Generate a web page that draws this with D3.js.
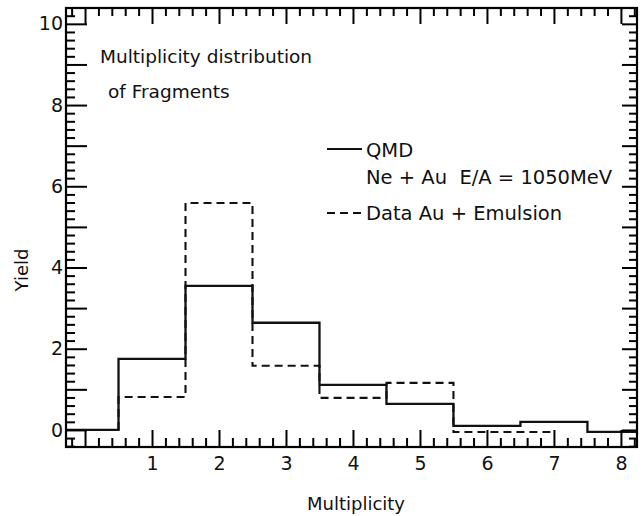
<!DOCTYPE html>
<html><head><meta charset="utf-8">
<script src="https://cdn.jsdelivr.net/npm/d3@7"></script>
<style>
body{margin:0;background:#fff}
svg{display:block}
text{font-family:"DejaVu Sans",sans-serif;fill:#111}
</style>
</head><body><svg id="c" width="642" height="516"></svg>
<script>
// ---- data ----
const multiplicity = [0, 1, 2, 3, 4, 5, 6, 7, 8];
const qmdEdges  = [-0.284, 0.5, 1.5, 2.5, 3.5, 4.5, 5.5, 6.5, 7.5, 8.24];
const qmdYield  = [0.0, 1.75, 3.55, 2.64, 1.11, 0.64, 0.10, 0.20, -0.05];
const dataEdges = [0.5, 1.5, 2.5, 3.5, 4.5, 5.5, 6.5, 7.0];
const dataYield = [0.81, 5.59, 1.58, 0.79, 1.16, -0.05, -0.05];
const xTickLabels = ["", "1", "2", "3", "4", "5", "6", "7", "8"];
const yMajorTicks = [0, 1, 2, 3, 4, 5, 6, 7, 8, 9, 10];
const yTickLabels = {0: "0", 2: "2", 4: "4", 6: "6", 8: "8", 10: "10"};
const titleLines = ["Multiplicity distribution", "of Fragments"];
const legendQMD = ["QMD", "Ne + Au  E/A = 1050MeV"];
const legendData = ["Data Au + Emulsion"];

const svg = d3.select("#c");
const L = 66, R = 637, T = 8, B = 447;
const x = d3.scaleLinear().domain([-0.284, 8.24]).range([L, R]);
const y = d3.scaleLinear().domain([-0.42, 10.39]).range([B, T]);

const xMinor = d3.range(-1, 42).map(i => i * 0.2)
  .filter(v => Math.abs(v - Math.round(v)) > 1e-6 && v > -0.284 && v < 8.24);
const yMinor = d3.range(-2, 52).map(i => i * 0.2)
  .filter(v => Math.abs(v - Math.round(v)) > 1e-6 && v > -0.42 && v < 10.39);

// histograms
function stepPath(edges, vals, startAtZero) {
  let p = startAtZero ? `M${x(edges[0])},${y(0)}V${y(vals[0])}` : `M${x(edges[0])},${y(vals[0])}`;
  for (let i = 0; i < vals.length; i++) {
    if (i > 0) p += `V${y(vals[i])}`;
    p += `H${x(edges[i + 1])}`;
  }
  return p;
}
svg.append("path").attr("d", stepPath(qmdEdges, qmdYield, false))
  .attr("fill", "none").attr("stroke", "#111").attr("stroke-width", 2.3);
svg.append("path").attr("d", stepPath(dataEdges, dataYield, true))
  .attr("fill", "none").attr("stroke", "#111").attr("stroke-width", 2.1)
  .attr("stroke-dasharray", "8,5");

// title
svg.append("text").attr("x", 100).attr("y", 63).attr("font-size", 18.5).text(titleLines[0]);
svg.append("text").attr("x", 108).attr("y", 98).attr("font-size", 18.5).text(titleLines[1]);

// legend
svg.append("line").attr("x1", 327).attr("x2", 362).attr("y1", 149).attr("y2", 149)
  .attr("stroke", "#111").attr("stroke-width", 2);
svg.append("text").attr("x", 366).attr("y", 157).attr("font-size", 19.5).text(legendQMD[0]);
svg.append("text").attr("x", 366).attr("y", 184).attr("font-size", 19.5)
  .style("white-space", "pre").text(legendQMD[1]);
svg.append("line").attr("x1", 327).attr("x2", 362).attr("y1", 213).attr("y2", 213)
  .attr("stroke", "#111").attr("stroke-width", 2).attr("stroke-dasharray", "8,5");
svg.append("text").attr("x", 366).attr("y", 220).attr("font-size", 19.5)
  .style("white-space", "pre").text(legendData[0]);

// axis titles
svg.append("text").attr("transform", "translate(28,270) rotate(-90)").attr("text-anchor", "middle")
  .attr("font-size", 18).text("Yield");
svg.append("text").attr("x", 356).attr("y", 510).attr("text-anchor", "middle")
  .attr("font-size", 18).text("Multiplicity");

// frame
svg.append("rect").attr("x", L).attr("y", T).attr("width", R - L).attr("height", B - T)
  .attr("fill", "none").attr("stroke", "#000").attr("stroke-width", 2.2);

// axes: labelled bottom/left with inward ticks, mirrored top/right, minor ticks every 0.2
function styleAxis(g) {
  g.select(".domain").remove();
  g.selectAll("line").attr("stroke", "#000").attr("stroke-width", 2);
  g.selectAll("text").attr("font-size", 19).attr("fill", "#111")
    .style("font-family", '"DejaVu Sans",sans-serif');
}
const axes = svg.append("g");
axes.append("g").attr("transform", `translate(0,${B})`)
  .call(d3.axisBottom(x).tickValues(multiplicity).tickSizeInner(-17).tickSizeOuter(0).tickPadding(10)
    .tickFormat((d, i) => xTickLabels[i])).call(styleAxis);
axes.append("g").attr("transform", `translate(0,${B})`)
  .call(d3.axisBottom(x).tickValues(xMinor).tickSizeInner(-9).tickSizeOuter(0).tickFormat(""))
  .call(styleAxis);
axes.append("g").attr("transform", `translate(${L},0)`)
  .call(d3.axisLeft(y).tickValues(yMajorTicks).tickSizeInner(-21).tickSizeOuter(0).tickPadding(3)
    .tickFormat(d => yTickLabels[d] || "")).call(styleAxis);
axes.append("g").attr("transform", `translate(${L},0)`)
  .call(d3.axisLeft(y).tickValues(yMinor).tickSizeInner(-9).tickSizeOuter(0).tickFormat(""))
  .call(styleAxis);
axes.append("g").attr("transform", `translate(0,${T})`)
  .call(d3.axisTop(x).tickValues(multiplicity).tickSizeInner(-16).tickSizeOuter(0).tickFormat(""))
  .call(styleAxis);
axes.append("g").attr("transform", `translate(0,${T})`)
  .call(d3.axisTop(x).tickValues(xMinor).tickSizeInner(-8).tickSizeOuter(0).tickFormat(""))
  .call(styleAxis);
axes.append("g").attr("transform", `translate(${R},0)`)
  .call(d3.axisRight(y).tickValues(yMajorTicks).tickSizeInner(-15).tickSizeOuter(0).tickFormat(""))
  .call(styleAxis);
axes.append("g").attr("transform", `translate(${R},0)`)
  .call(d3.axisRight(y).tickValues(yMinor).tickSizeInner(-8).tickSizeOuter(0).tickFormat(""))
  .call(styleAxis);
</script>
</body></html>
